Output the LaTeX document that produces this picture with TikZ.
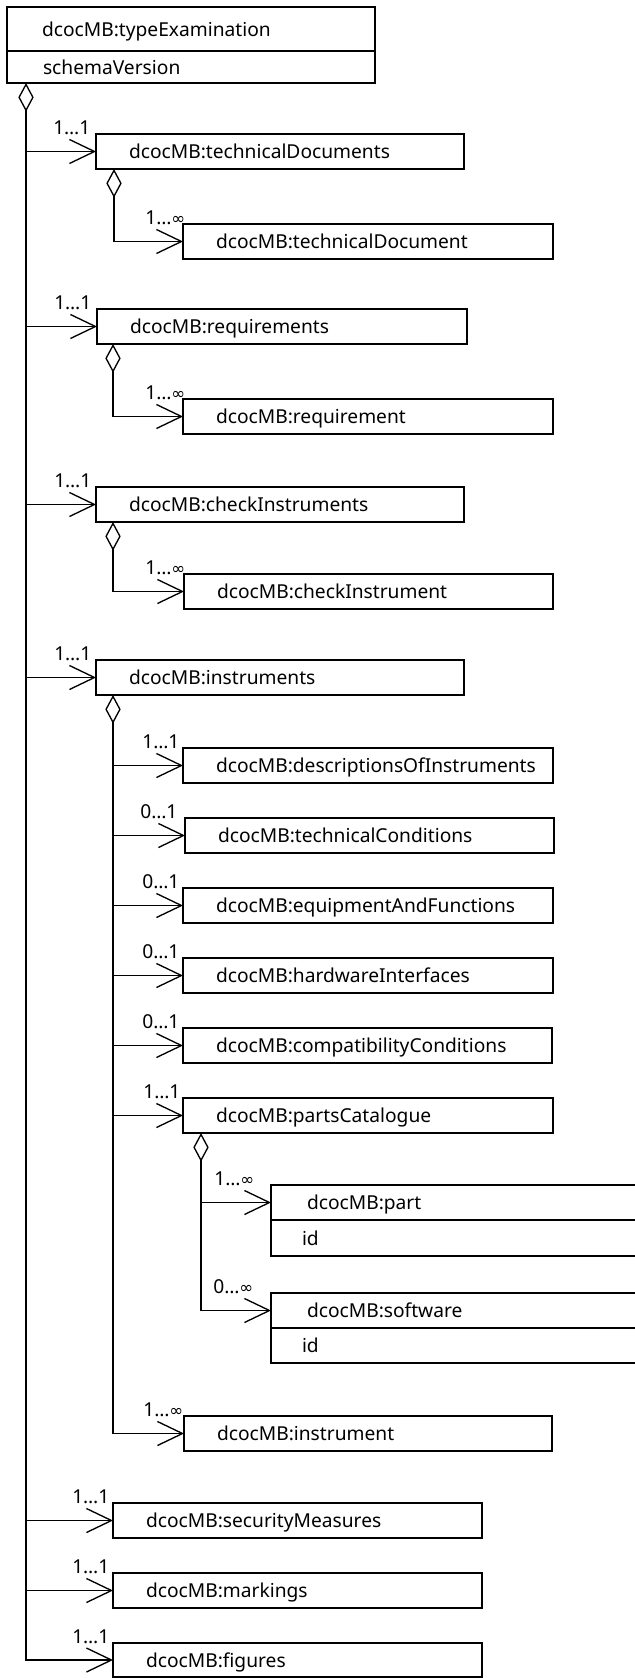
\documentclass[tikz,border=0pt]{standalone}
\usepackage{fontspec}
\setmainfont{Noto Sans}
\newfontfamily\symfont{DejaVu Sans}
\newcommand{\infsym}{{\symfont\fontsize{12.5}{14}\selectfont ∞}}
\usetikzlibrary{arrows.meta,calc}
\begin{document}
\begin{tikzpicture}[x=0.75pt,y=-0.75pt,
  every node/.style={font=\fontsize{14.4}{16}\selectfont},
  % box of width #1 (px) whose text starts #2 px from its left side
  elemp/.style 2 args={draw, line width=1pt, anchor=north west, inner ysep=0pt, outer sep=0pt,
    inner xsep={#2*0.75pt}, text width={(#1-2*#2)*0.75pt},
    minimum height={35*0.75pt}, text height=14pt, text depth=2.8pt, align=left},
  elem/.style={elemp={#1}{33}},
  mult/.style={anchor=base west, inner sep=0pt},
  agg/.style={line width=1pt, {Diamond[open,length=21.5pt,width=11.5pt]}-{Straight Barb[length=18.75pt,width=18pt]}},
  assoc/.style={line width=1pt, -{Straight Barb[length=18.75pt,width=18pt]}}
]
\useasboundingbox (0,0) rectangle (635,1678);
\clip (0,0) rectangle (635,1678);

% root element with its attribute compartment
\node[elemp={368}{35}, minimum height={44*0.75pt}] (te) at (7,7) {dcocMB:typeExamination};
\node[elemp={368}{36}, minimum height={32*0.75pt}] (tev) at (te.south west) {schemaVersion};

% first-level children
\node[elem=368] (td)  at (96,134)  {dcocMB:technicalDocuments};
\node[elem=370] (tdi) at (183,224) {dcocMB:technicalDocument};
\node[elem=370] (rq)  at (97,309)  {dcocMB:requirements};
\node[elem=370] (rqi) at (183,399) {dcocMB:requirement};
\node[elem=368] (ci)  at (96,487)  {dcocMB:checkInstruments};
\node[elem=369] (cii) at (184,574) {dcocMB:checkInstrument};
\node[elem=368] (in)  at (96,660)  {dcocMB:instruments};

% instrument descriptions
\node[elem=370] (dsc) at (183,748)  {dcocMB:descriptionsOfInstruments};
\node[elem=369] (tc)  at (185,818)  {dcocMB:technicalConditions};
\node[elem=370] (eq)  at (183,888)  {dcocMB:equipmentAndFunctions};
\node[elem=370] (hw)  at (183,958)  {dcocMB:hardwareInterfaces};
\node[elem=369] (cc)  at (183,1028) {dcocMB:compatibilityConditions};
\node[elem=370] (pc)  at (183,1098) {dcocMB:partsCatalogue};

% parts catalogue entries (they run past the right edge)
\node[elemp={420}{36}] (part) at (271,1185) {dcocMB:part};
\node[elemp={420}{31}, minimum height={36*0.75pt}] (partid) at (part.south west) {id};
\node[elemp={420}{36}] (sw) at (271,1293) {dcocMB:software};
\node[elemp={420}{31}] (swid) at (sw.south west) {id};

\node[elem=368] (ins) at (184,1416) {dcocMB:instrument};

% remaining first-level children
\node[elem=369] (sm) at (113,1503) {dcocMB:securityMeasures};
\node[elem=369] (mk) at (113,1573) {dcocMB:markings};
\node[elem=369, minimum height={34*0.75pt}] (fg) at (113,1643) {dcocMB:figures};

% aggregation origins
\coordinate (rootd) at ($(tev.south west)+(19,0)$);
\coordinate (tdd) at ($(td.south west)+(18,0)$);
\coordinate (rqd) at ($(rq.south west)+(16,0)$);
\coordinate (cid) at ($(ci.south west)+(17,0)$);
\coordinate (ind) at ($(in.south west)+(17,0)$);
\coordinate (pcd) at ($(pc.south west)+(18,0)$);

% connectors
\draw[agg] (rootd) -- (rootd |- fg.west) -- (fg.west);
\foreach \n in {td,rq,ci,in,sm,mk}
  \draw[assoc] (rootd |- \n.west) -- (\n.west);

\draw[agg] (tdd) -- (tdd |- tdi.west) -- (tdi.west);
\draw[agg] (rqd) -- (rqd |- rqi.west) -- (rqi.west);
\draw[agg] (cid) -- (cid |- cii.west) -- (cii.west);

\draw[agg] (ind) -- (ind |- ins.west) -- (ins.west);
\foreach \n in {dsc,tc,eq,hw,cc,pc}
  \draw[assoc] (ind |- \n.west) -- (\n.west);

\draw[agg] (pcd) -- (pcd |- sw.west) -- (sw.west);
\draw[assoc] (pcd |- part.west) -- (part.west);

% multiplicities
\node[mult] (m-td)  at ($(td.west)+(-43,-17)$)  {1…1};
\node[mult] (m-tdi) at ($(tdi.west)+(-38,-17)$) {1…\infsym};
\node[mult] (m-rq)  at ($(rq.west)+(-43,-17)$)  {1…1};
\node[mult] (m-rqi) at ($(rqi.west)+(-38,-17)$) {1…\infsym};
\node[mult] (m-ci)  at ($(ci.west)+(-42,-17)$)  {1…1};
\node[mult] (m-cii) at ($(cii.west)+(-39,-17)$) {1…\infsym};
\node[mult] (m-in)  at ($(in.west)+(-42,-17)$)  {1…1};
\node[mult] (m-dsc) at ($(dsc.west)+(-41,-17)$) {1…1};
\node[mult] (m-tc)  at ($(tc.west)+(-45,-17)$)  {0…1};
\node[mult] (m-eq)  at ($(eq.west)+(-41,-17)$)  {0…1};
\node[mult] (m-hw)  at ($(hw.west)+(-41,-17)$)  {0…1};
\node[mult] (m-cc)  at ($(cc.west)+(-41,-17)$)  {0…1};
\node[mult] (m-pc)  at ($(pc.west)+(-40,-17)$)  {1…1};
\node[mult] (m-part) at ($(part.west)+(-57,-17)$) {1…\infsym};
\node[mult] (m-sw)  at ($(sw.west)+(-58,-17)$)  {0…\infsym};
\node[mult] (m-ins) at ($(ins.west)+(-41,-17)$) {1…\infsym};
\node[mult] (m-sm)  at ($(sm.west)+(-41,-17)$)  {1…1};
\node[mult] (m-mk)  at ($(mk.west)+(-41,-17)$)  {1…1};
\node[mult] (m-fg)  at ($(fg.west)+(-41,-17)$)  {1…1};
\end{tikzpicture}
\end{document}
